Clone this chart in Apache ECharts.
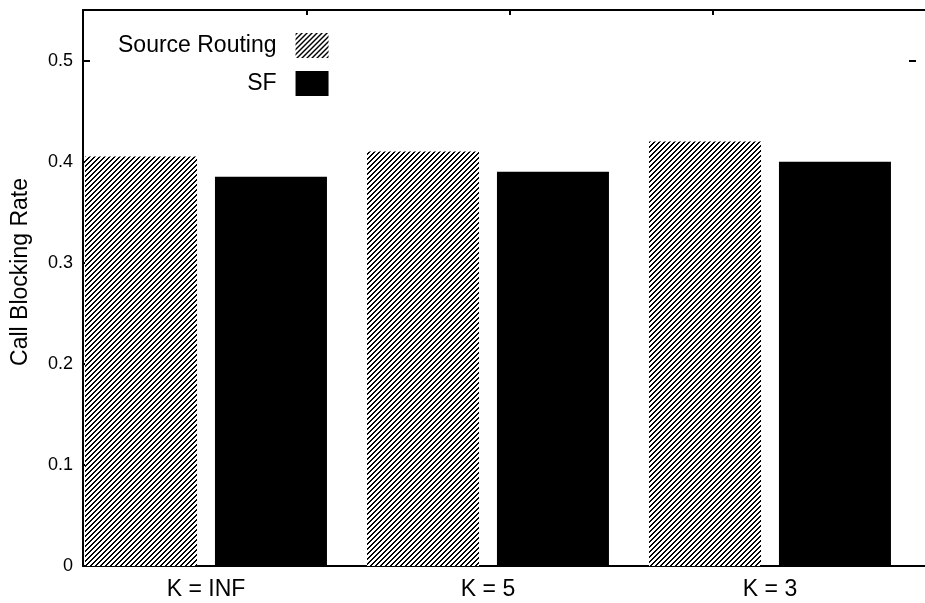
<!DOCTYPE html>
<html>
<head>
<meta charset="utf-8">
<script src="https://cdn.jsdelivr.net/npm/echarts@6/dist/echarts.min.js"></script>
<style>
  html, body { margin: 0; padding: 0; background: #fff; }
  #chart { width: 925px; height: 603px; }
</style>
</head>
<body>
<div id="chart"></div>
<script>
// Call blocking rate per path-length limit K
const categories = ['K = INF', 'K = 5', 'K = 3'];
const sourceRouting = [0.405, 0.41, 0.42];
const sf = [0.385, 0.39, 0.40];
const yMax = 0.55;
const yStep = 0.1;
const topTicks = [1, 2, 3];
const rightTicks = [0.5];

const FONT = '"Liberation Sans", Arial, Helvetica, sans-serif';

// Crisp diagonal "/" hatching used for the Source Routing boxes
function hatchPattern() {
  const T = 10, period = 5, ink = 2;
  const c = document.createElement('canvas');
  c.width = T; c.height = T;
  const g = c.getContext('2d');
  const img = g.createImageData(T, T);
  for (let y = 0; y < T; y++) {
    for (let x = 0; x < T; x++) {
      const on = ((x + y) % period) < ink;
      const i = (y * T + x) * 4;
      const v = on ? 0 : 255;
      img.data[i] = v; img.data[i + 1] = v; img.data[i + 2] = v; img.data[i + 3] = 255;
    }
  }
  g.putImageData(img, 0, 0);
  return c;
}
const hatch = { image: hatchPattern(), repeat: 'repeat' };

const chart = echarts.init(document.getElementById('chart'), null, { renderer: 'canvas' });

const option = {
  animation: false,
  backgroundColor: '#fff',
  textStyle: { fontFamily: FONT, color: '#000' },
  legend: {
    orient: 'vertical',
    align: 'right',
    left: 113,
    top: 28,
    itemWidth: 33,
    itemHeight: 25,
    itemGap: 13,
    icon: 'rect',
    textStyle: { fontFamily: FONT, fontSize: 23, color: '#000', padding: [0, 14, 0, 0] },
    data: ['Source Routing', 'SF']
  },
  grid: [
    // bars
    { left: 65, right: 14, top: 10, bottom: 37 },
    // frame: left axis, top and bottom borders
    { left: 83, right: 0, top: 10, bottom: 37 },
    // right-hand mirror tic
    { left: 83, right: 9, top: 10, bottom: 37 }
  ],
  xAxis: [
    {
      gridIndex: 0, type: 'category', data: categories,
      axisLine: { show: false }, axisTick: { show: false },
      axisLabel: { fontFamily: FONT, fontSize: 23, color: '#000', margin: 12 }
    },
    {
      gridIndex: 1, type: 'value', position: 'bottom', min: 0, max: 1,
      axisLine: { show: true, onZero: false, lineStyle: { color: '#000', width: 2 } },
      axisTick: { show: false }, axisLabel: { show: false }, splitLine: { show: false }
    },
    {
      gridIndex: 1, type: 'value', position: 'top', min: -0.1, max: 4.048,
      axisLine: { show: true, onZero: false, lineStyle: { color: '#000', width: 2 } },
      axisTick: { show: true, inside: true, length: 5, customValues: topTicks, lineStyle: { color: '#000', width: 2 } },
      axisLabel: { show: false }, splitLine: { show: false }
    },
    {
      gridIndex: 2, type: 'value', show: false, min: 0, max: 1
    }
  ],
  yAxis: [
    {
      gridIndex: 0, type: 'value', min: 0, max: yMax, show: false
    },
    {
      gridIndex: 1, type: 'value', min: 0, max: yMax, interval: yStep,
      name: 'Call Blocking Rate', nameLocation: 'middle', nameRotate: 90, nameGap: 51,
      nameTextStyle: { fontFamily: FONT, fontSize: 23, color: '#000', padding: [0, 0, 0, 32] },
      axisLine: { show: true, onZero: false, lineStyle: { color: '#000', width: 2 } },
      axisTick: { show: true, inside: true, length: 7, lineStyle: { color: '#000', width: 2 } },
      axisLabel: {
        fontFamily: FONT, fontSize: 18, color: '#000', margin: 10,
        formatter: v => (v === 0 ? '0' : v.toFixed(1)),
        showMaxLabel: false
      },
      splitLine: { show: false }
    },
    {
      gridIndex: 2, type: 'value', position: 'right', min: 0, max: yMax,
      axisLine: { show: false, onZero: false },
      axisTick: { show: true, inside: true, length: 7, customValues: rightTicks, lineStyle: { color: '#000', width: 2 } },
      axisLabel: { show: false }, splitLine: { show: false }
    }
  ],
  series: [
    {
      name: 'Source Routing', type: 'bar', xAxisIndex: 0, yAxisIndex: 0,
      data: sourceRouting, barWidth: 112, barGap: '16%',
      itemStyle: { color: hatch }
    },
    {
      name: 'SF', type: 'bar', xAxisIndex: 0, yAxisIndex: 0,
      data: sf, barWidth: 112, barGap: '16%',
      itemStyle: { color: '#000' }
    }
  ]
};

chart.setOption(option);
</script>
</body>
</html>
